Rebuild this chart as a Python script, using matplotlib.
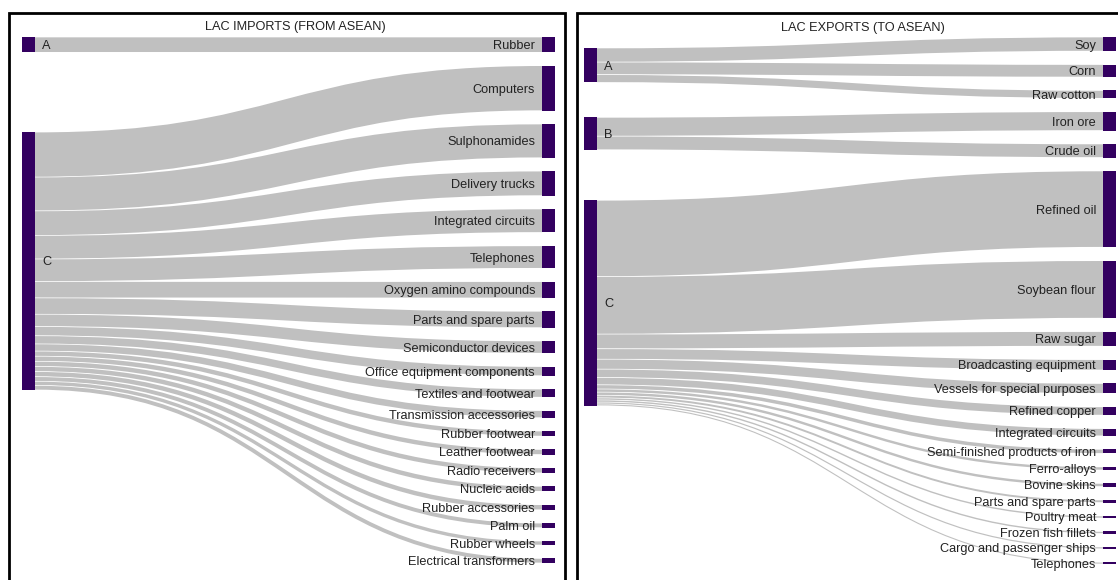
import matplotlib
matplotlib.use("Agg")
import matplotlib.pyplot as plt
from matplotlib.path import Path
from matplotlib.patches import PathPatch, Rectangle
from matplotlib import patheffects as pe

plt.rcParams['font.family'] = ['Liberation Sans', 'DejaVu Sans']

# LAC imports from ASEAN (flow widths)
imp_title = "LAC IMPORTS (FROM ASEAN)"
imp_link_source = ["A"] + ["C"] * 19
imp_link_target = ["Rubber", "Computers", "Sulphonamides", "Delivery trucks",
                   "Integrated circuits", "Telephones", "Oxygen amino compounds",
                   "Parts and spare parts", "Semiconductor devices",
                   "Office equipment components", "Textiles and footwear",
                   "Transmission accessories", "Rubber footwear", "Leather footwear",
                   "Radio receivers", "Nucleic acids", "Rubber accessories",
                   "Palm oil", "Rubber wheels", "Electrical transformers"]
imp_link_value = [15, 44, 33, 24, 23, 22, 16, 16, 12, 9, 8, 7,
                  5, 5, 5, 5, 5, 4.5, 4, 4.5]

# LAC exports to ASEAN
exp_title = "LAC EXPORTS (TO ASEAN)"
exp_link_source = ["A"] * 3 + ["B"] * 2 + ["C"] * 15
exp_link_target = ["Soy", "Corn", "Raw cotton", "Iron ore", "Crude oil",
                   "Refined oil", "Soybean flour", "Raw sugar",
                   "Broadcasting equipment", "Vessels for special purposes",
                   "Refined copper", "Integrated circuits",
                   "Semi-finished products of iron", "Ferro-alloys", "Bovine skins",
                   "Parts and spare parts", "Poultry meat", "Frozen fish fillets",
                   "Cargo and passenger ships", "Telephones"]
exp_link_value = [13.5, 12, 7.5, 18, 13, 73, 55, 14, 10, 9.5, 8, 7,
                  4, 3, 3, 2.5, 2, 2, 1.8, 1.7]

NODE_COLOR = "#330060"
LINK_COLOR = "#c0c0c0"
TEXT_COLOR = "#222222"
FS = 9.2
W, H = 1118, 580


def sankey(ax, link_source, link_target, link_value, pad_px=13.3, node_px=13):
    fig = ax.figure
    pos = ax.get_position()
    ax_w = pos.width * fig.get_figwidth() * fig.dpi
    ax_h = pos.height * fig.get_figheight() * fig.dpi

    targets = []
    for t in link_target:
        if t not in targets:
            targets.append(t)
    tval = {t: 0 for t in targets}
    for t, v in zip(link_target, link_value):
        tval[t] += v
    ky = (ax_h - (len(targets) - 1) * pad_px) / sum(tval.values())
    pad = pad_px / ky

    # target column: stacked in order
    tpos = {}
    y = 0
    for t in targets:
        tpos[t] = [y, y + tval[t]]
        y += tval[t] + pad
    total = y - pad

    # source column: centred on weighted targets, then de-overlapped
    sources = []
    for s in link_source:
        if s not in sources:
            sources.append(s)
    spos = {}
    for s in sources:
        vals = [(v, sum(tpos[t]) / 2) for ss, t, v in zip(link_source, link_target, link_value) if ss == s]
        h = sum(v for v, _ in vals)
        c = sum(v * m for v, m in vals) / h
        spos[s] = [c - h / 2, c + h / 2]
    order = sorted(sources, key=lambda s: spos[s][0])
    prev = -pad
    for s in order:
        y0, y1 = spos[s]
        if y0 < prev + pad:
            shift = prev + pad - y0
            spos[s] = [y0 + shift, y1 + shift]
        prev = spos[s][1]
    nxt = total + pad
    for s in reversed(order):
        y0, y1 = spos[s]
        if y1 > nxt - pad:
            shift = y1 - (nxt - pad)
            spos[s] = [y0 - shift, y1 - shift]
        nxt = spos[s][0]

    nw = node_px / ax_w
    ax.set_xlim(0, 1)
    ax.set_ylim(total, 0)
    ax.axis("off")

    # links drawn as thick curves (width = value)
    s_off = {s: spos[s][0] for s in sources}
    t_off = {t: tpos[t][0] for t in targets}
    links = sorted(zip(link_source, link_target, link_value), key=lambda l: tpos[l[1]][0])
    for s, t, v in links:
        ys = s_off[s] + v / 2; s_off[s] += v
        yt = t_off[t] + v / 2; t_off[t] += v
        xs, xt = nw, 1 - nw
        xm = (xs + xt) / 2
        path = Path([(xs, ys), (xm, ys), (xm, yt), (xt, yt)],
                    [Path.MOVETO, Path.CURVE4, Path.CURVE4, Path.CURVE4])
        lw = v * ky * 72 / fig.dpi
        ax.add_patch(PathPatch(path, fill=False, edgecolor=LINK_COLOR, lw=max(lw - 0.5, 0.3),
                               capstyle="butt", zorder=1,
                               path_effects=[pe.Stroke(linewidth=lw, foreground="white",
                                                       capstyle="butt"),
                                             pe.Normal()]))

    # nodes + labels (baseline 0.35em below node centre)
    dy = -0.35 * FS
    for s in sources:
        y0, y1 = spos[s]
        ax.add_patch(Rectangle((0, y0), nw, y1 - y0, facecolor=NODE_COLOR,
                               edgecolor="none", zorder=3))
        ax.annotate(s, xy=(nw, (y0 + y1) / 2), xytext=(5, dy), textcoords="offset points",
                    ha="left", va="baseline", fontsize=FS, color=TEXT_COLOR, zorder=4)
    for t in targets:
        y0, y1 = tpos[t]
        ax.add_patch(Rectangle((1 - nw, y0), nw, y1 - y0, facecolor=NODE_COLOR,
                               edgecolor="none", zorder=3))
        ax.annotate(t, xy=(1 - nw, (y0 + y1) / 2), xytext=(-5, dy), textcoords="offset points",
                    ha="right", va="baseline", fontsize=FS, color=TEXT_COLOR, zorder=4)


fig = plt.figure(figsize=(W / 100, H / 100), dpi=100)

ax1 = fig.add_axes([22 / W, 1 - 563 / H, (555 - 22) / W, (563 - 37) / H])
sankey(ax1, imp_link_source, imp_link_target, imp_link_value)
ax2 = fig.add_axes([584 / W, 1 - 564 / H, (1116 - 584) / W, (564 - 37) / H])
sankey(ax2, exp_link_source, exp_link_target, exp_link_value, pad_px=13.4)

# panel frames (bottom / right cut off in the original)
fig.add_artist(Rectangle((9 / W, -0.05), (565 - 9) / W, 1.05 - 13 / H,
                         transform=fig.transFigure, fill=False, edgecolor="black", lw=2))
fig.add_artist(Rectangle((577 / W, -0.05), 0.6, 1.05 - 13 / H,
                         transform=fig.transFigure, fill=False, edgecolor="black", lw=2))

fig.text(295 / W, 1 - 30 / H, imp_title, ha="center", va="baseline", fontsize=FS, color=TEXT_COLOR)
fig.text(863 / W, 1 - 31 / H, exp_title, ha="center", va="baseline", fontsize=FS, color=TEXT_COLOR)

fig.savefig("out.png", dpi=100)
